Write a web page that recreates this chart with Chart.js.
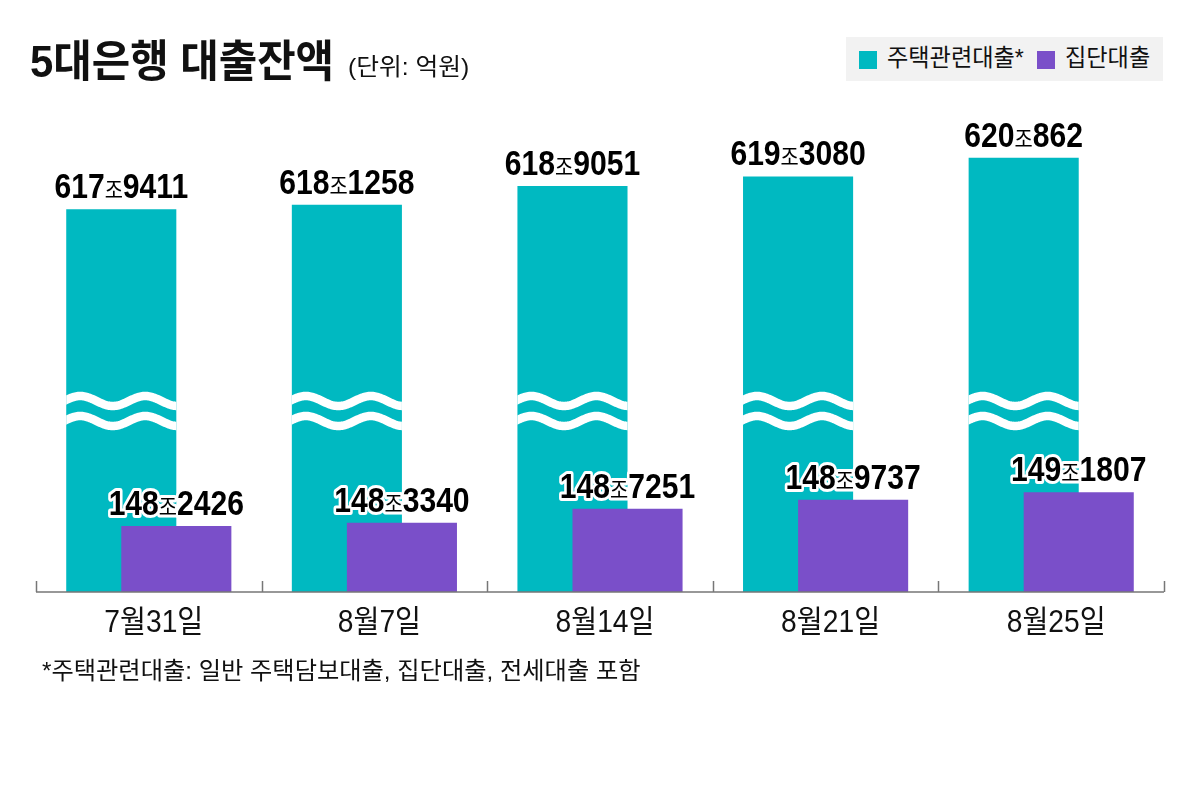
<!DOCTYPE html>
<html lang="ko">
<head>
<meta charset="utf-8">
<title>5대은행 대출잔액</title>
<script src="https://cdn.jsdelivr.net/npm/chart.js@4.4.1/dist/chart.umd.min.js"></script>
<style>
    html, body { margin: 0; padding: 0; background: #fff; }
    body {
        width: 1200px; height: 786px; position: relative; overflow: hidden;
        font-family: "Liberation Sans", "Noto Sans CJK KR", sans-serif; color: #111;
    }
    #chart { position: absolute; left: 0; top: 0; }
    .txt { position: absolute; white-space: nowrap; line-height: 1; transform-origin: left top; }
    .title { left: 30px; top: 40px; font-size: 44px; font-weight: bold; transform: scaleX(0.95); }
    .unit { left: 348px; top: 55px; font-size: 24px; transform: scaleX(1.03); }
    .legend { position: absolute; left: 846px; top: 37px; width: 317px; height: 44px; background: #f2f2f2; }
    .legend .sq { position: absolute; top: 14px; width: 18px; height: 18px; }
    .legend .txt { top: 9px; font-size: 24px; transform: scaleX(0.965); }
    .note { left: 42px; top: 659px; font-size: 24px; transform: scaleX(1.01); }
</style>
</head>
<body>
<canvas id="chart" width="1200" height="786"></canvas>

<div class="txt title">5대은행 대출잔액</div>
<div class="txt unit">(단위: 억원)</div>
<div class="legend">
    <div class="sq" style="left:13px; background:#00b9c1;"></div>
    <div class="txt" style="left:41px;">주택관련대출*</div>
    <div class="sq" style="left:191px; background:#7a4fc9;"></div>
    <div class="txt" style="left:219px;">집단대출</div>
</div>
<div class="txt note">*주택관련대출: 일반 주택담보대출, 집단대출, 전세대출 포함</div>

<script>
// 날짜
const dates = ['7월31일', '8월7일', '8월14일', '8월21일', '8월25일'];
// 주택관련대출 (조 / 억원)
const housingJo = [617, 618, 618, 619, 620];
const housingEok = [9411, 1258, 9051, 3080, 862];
// 집단대출 (조 / 억원)
const groupJo = [148, 148, 148, 148, 149];
const groupEok = [2426, 3340, 7251, 9737, 1807];

const TEAL = '#00b9c1';
const PURPLE = '#7a4fc9';

// 조 단위 값
const housingValues = housingJo.map((j, i) => j + housingEok[i] / 10000);
const groupValues = groupJo.map((j, i) => j + groupEok[i] / 10000);

// 집단대출 막대를 주택관련대출 위에 그리기
let lateDraw = false;
const layerPlugin = {
    id: 'layer',
    beforeDatasetDraw(chart, args) {
        if (args.index === 1 && !lateDraw) return false;
    },
    afterDatasetsDraw(chart) {
        const ctx = chart.ctx;
        const area = chart.chartArea;
        ctx.save();
        ctx.beginPath();
        ctx.rect(area.left, area.top, area.right - area.left, area.bottom - area.top);
        ctx.clip();
        lateDraw = true;
        chart.getDatasetMeta(1).controller.draw();
        lateDraw = false;
        ctx.restore();
    }
};

// 물결 (축 생략 표시)
const wavePlugin = {
    id: 'waves',
    afterDatasetDraw(chart, args) {
        if (args.index !== 0) return;
        const ctx = chart.ctx;
        const bottom = chart.chartArea.bottom;
        args.meta.data.forEach(bar => {
            const left = bar.x - bar.width / 2;
            const right = bar.x + bar.width / 2;
            ctx.save();
            ctx.beginPath();
            ctx.rect(left, bar.y, bar.width, bottom - bar.y);
            ctx.clip();
            ctx.strokeStyle = '#fff';
            ctx.lineWidth = 8.5;
            [bottom - 191, bottom - 171].forEach(c => {
                ctx.beginPath();
                for (let x = left - 2; x <= right + 2; x++) {
                    const y = c - 5 * Math.cos(2 * Math.PI * (x - left - 14) / 65);
                    if (x === left - 2) ctx.moveTo(x, y); else ctx.lineTo(x, y);
                }
                ctx.stroke();
            });
            ctx.restore();
        });
    }
};

// 값 라벨 + x축
const labelPlugin = {
    id: 'labels',
    afterDatasetsDraw(chart) {
        const ctx = chart.ctx;
        const sx = 0.86;
        const numFont = 'bold 35px "Liberation Sans", Arial, sans-serif';
        const joFont = '23px "Noto Sans CJK KR", sans-serif';
        const parts = [
            { jo: housingJo, eok: housingEok, outline: false },
            { jo: groupJo, eok: groupEok, outline: true }
        ];
        parts.forEach((p, di) => {
            const meta = chart.getDatasetMeta(di);
            meta.data.forEach((bar, i) => {
                const a = String(p.jo[i]), b = '조', c = String(p.eok[i]);
                ctx.save();
                ctx.translate(bar.x, bar.y - 11);
                ctx.scale(sx, 1);
                ctx.textBaseline = 'alphabetic';
                ctx.textAlign = 'left';
                ctx.font = numFont;
                const wa = ctx.measureText(a).width, wc = ctx.measureText(c).width;
                ctx.font = joFont;
                const wb = ctx.measureText(b).width;
                let x = -(wa + wb + wc) / 2;
                const pieces = [[a, numFont, wa], [b, joFont, wb], [c, numFont, wc]];
                if (p.outline) {
                    ctx.strokeStyle = '#fff';
                    ctx.lineWidth = 6;
                    ctx.lineJoin = 'round';
                    let xx = x;
                    pieces.forEach(([t, f, w]) => { ctx.font = f; ctx.strokeText(t, xx, 0); xx += w; });
                }
                ctx.fillStyle = '#000';
                pieces.forEach(([t, f, w]) => { ctx.font = f; ctx.fillText(t, x, 0); x += w; });
                ctx.restore();
            });
        });

        // x축 선과 눈금
        const xs = chart.scales.x;
        const bottom = chart.chartArea.bottom;
        const step = (xs.right - xs.left) / dates.length;
        ctx.save();
        ctx.strokeStyle = '#777';
        ctx.lineWidth = 1.5;
        ctx.beginPath();
        ctx.moveTo(xs.left, bottom);
        ctx.lineTo(xs.right, bottom);
        for (let i = 0; i <= dates.length; i++) {
            const x = Math.round(xs.left + i * step) + 0.5;
            ctx.moveTo(x, bottom);
            ctx.lineTo(x, bottom - 11);
        }
        ctx.stroke();

        ctx.fillStyle = '#111';
        ctx.font = '31px "Liberation Sans", "Noto Sans CJK KR", sans-serif';
        ctx.textAlign = 'center';
        ctx.textBaseline = 'alphabetic';
        dates.forEach((d, i) => {
            ctx.save();
            ctx.translate(xs.getPixelForValue(i) + 5, bottom + 40);
            ctx.scale(0.91, 1);
            ctx.fillText(d, 0, 0);
            ctx.restore();
        });
        ctx.restore();
    }
};

new Chart(document.getElementById('chart'), {
    type: 'bar',
    data: {
        labels: dates,
        datasets: [
            {
                label: '주택관련대출*',
                data: housingValues,
                backgroundColor: TEAL,
                yAxisID: 'y'
            },
            {
                label: '집단대출',
                data: groupValues,
                backgroundColor: PURPLE,
                yAxisID: 'y2'
            }
        ]
    },
    options: {
        responsive: false,
        animation: false,
        categoryPercentage: 0.488,
        barPercentage: 2.0,
        layout: {
            padding: { left: 36, right: 36, top: 100, bottom: 194 }
        },
        plugins: {
            legend: { display: false },
            tooltip: { enabled: false }
        },
        scales: {
            x: { display: false },
            // 주택관련대출 (물결 생략 축)
            y: { display: false, min: 602.028, max: 622.485 },
            // 집단대출
            y2: { display: false, min: 146.404, max: 160.109 }
        }
    },
    plugins: [layerPlugin, wavePlugin, labelPlugin]
});
</script>
</body>
</html>
